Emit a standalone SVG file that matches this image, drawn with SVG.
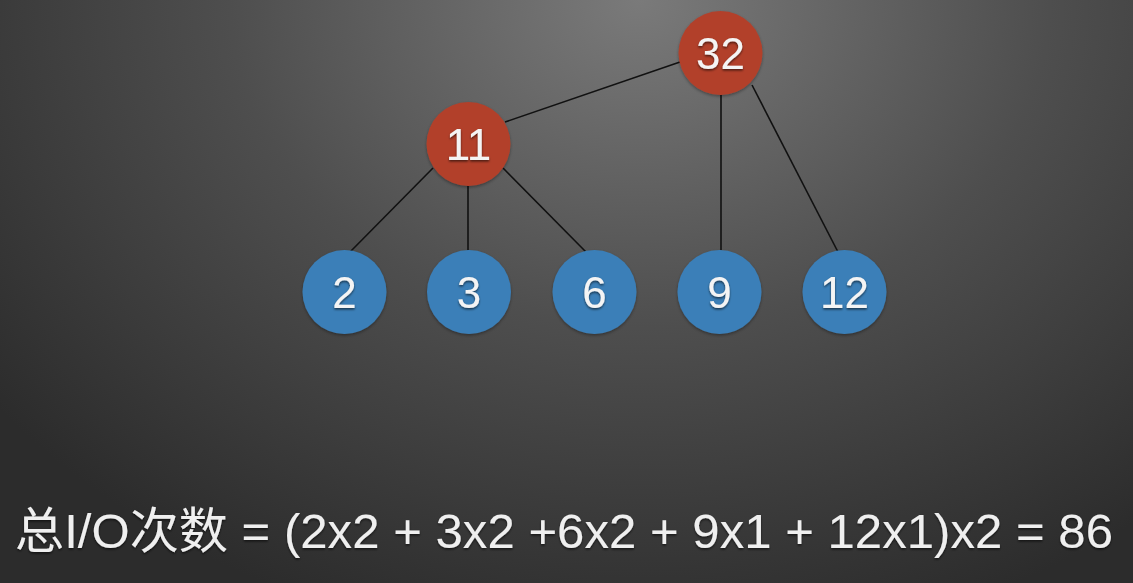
<svg xmlns="http://www.w3.org/2000/svg" width="1133" height="583" viewBox="0 0 1133 583">
<defs>
<radialGradient id="bg" gradientUnits="userSpaceOnUse" cx="640" cy="0" r="820" gradientTransform="translate(640 0) scale(1 0.8) translate(-640 0)">
<stop offset="0" stop-color="#7a7a7a"/>
<stop offset="0.5" stop-color="#4e4e4e"/>
<stop offset="1" stop-color="#2c2c2c"/>
</radialGradient>
<filter id="ts" x="-20%" y="-20%" width="140%" height="140%">
<feDropShadow dx="0" dy="1.5" stdDeviation="1" flood-color="#000" flood-opacity="0.6"/>
</filter>
<filter id="cs" x="-20%" y="-20%" width="140%" height="140%">
<feDropShadow dx="0" dy="1.5" stdDeviation="1.5" flood-color="#000" flood-opacity="0.35"/>
</filter>
</defs>
<style>
.red{fill:#b2402b}
.blue{fill:#3b7fb8}
.lbl{font-family:"Liberation Sans",Arial,sans-serif;font-size:44px;fill:#f4f4f4;text-anchor:middle;filter:url(#ts)}
.edge{stroke:#111;stroke-width:1.6;fill:none}
.formula{font-family:"Liberation Sans","Noto Sans CJK SC",sans-serif;font-size:49px;fill:#efefef;filter:url(#ts)}
</style>
<rect width="1133" height="583" fill="url(#bg)"/>
<g id="connectors">
<line class="edge" x1="680" y1="62" x2="505" y2="122"/>
<line class="edge" x1="721" y1="95" x2="721" y2="250"/>
<line class="edge" x1="752" y1="85" x2="838" y2="252"/>
<line class="edge" x1="433" y1="168" x2="350" y2="252"/>
<line class="edge" x1="468" y1="186" x2="468" y2="250"/>
<line class="edge" x1="503" y1="168" x2="586" y2="252"/>
</g>
<g id="n32"><circle class="red" cx="720.5" cy="53" r="42" filter="url(#cs)"/><text class="lbl" x="720.5" y="69">32</text></g>
<g id="n11"><circle class="red" cx="468.5" cy="144" r="42" filter="url(#cs)"/><text class="lbl" x="468.5" y="160">11</text></g>
<g id="n2"><circle class="blue" cx="344.5" cy="292" r="42" filter="url(#cs)"/><text class="lbl" x="344.5" y="308">2</text></g>
<g id="n3"><circle class="blue" cx="469" cy="292" r="42" filter="url(#cs)"/><text class="lbl" x="469" y="308">3</text></g>
<g id="n6"><circle class="blue" cx="594.5" cy="292" r="42" filter="url(#cs)"/><text class="lbl" x="594.5" y="308">6</text></g>
<g id="n9"><circle class="blue" cx="719.5" cy="292" r="42" filter="url(#cs)"/><text class="lbl" x="719.5" y="308">9</text></g>
<g id="n12"><circle class="blue" cx="844.5" cy="292" r="42" filter="url(#cs)"/><text class="lbl" x="844.5" y="308">12</text></g>
<g id="formula"><text class="formula" x="15" y="548" textLength="1098" lengthAdjust="spacingAndGlyphs">总I/O次数 = (2x2 + 3x2 +6x2 + 9x1 + 12x1)x2 = 86</text></g>
</svg>
